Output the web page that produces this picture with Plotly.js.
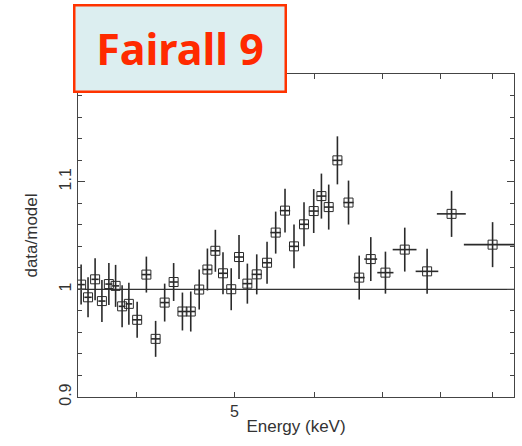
<!DOCTYPE html>
<html>
<head>
<meta charset="utf-8">
<script src="https://cdn.plot.ly/plotly-3.0.1.min.js"></script>
<style>html,body{margin:0;padding:0;background:#fff;}#chart{width:522px;height:446px;}</style>
</head>
<body>
<div id="chart"></div>
<script>
// Energy bin centres (keV)
const energy = [3.525, 3.581, 3.639, 3.696, 3.755, 3.813, 3.870, 3.930, 4.005, 4.090,
                4.177, 4.264, 4.352, 4.440, 4.525, 4.613, 4.700, 4.786, 4.870, 4.962,
                5.051, 5.148, 5.259, 5.384, 5.491, 5.609, 5.725, 5.857, 5.988, 6.094,
                6.196, 6.320, 6.482, 6.642, 6.819, 7.051, 7.368, 7.753, 8.197, 9.000];
// data/model ratio
const ratio = [1.0044, 0.9926, 1.0093, 0.9891, 1.0049, 1.0032, 0.9842, 0.9865, 0.9717, 1.0137,
               0.9540, 0.9877, 1.0068, 0.9794, 0.9794, 0.9998, 1.0184, 1.0358, 1.0149, 1.0001,
               1.0300, 1.0053, 1.0139, 1.0247, 1.0527, 1.0731, 1.0399, 1.0604, 1.0727, 1.0866,
               1.0764, 1.1198, 1.0806, 1.0109, 1.0281, 1.0155, 1.0369, 1.0167, 1.0701, 1.0415];
// 1-sigma errors on the ratio
const ratioErr = [0.0186, 0.0186, 0.0195, 0.0195, 0.0195, 0.0195, 0.0195, 0.0195, 0.0167, 0.0167,
                  0.0167, 0.0176, 0.0176, 0.0176, 0.0186, 0.0186, 0.0195, 0.0195, 0.0195, 0.0195,
                  0.0204, 0.0186, 0.0186, 0.0195, 0.0195, 0.0204, 0.0204, 0.0204, 0.0204, 0.0209,
                  0.0209, 0.0223, 0.0204, 0.0204, 0.0204, 0.0195, 0.0204, 0.0209, 0.0214, 0.0209];
// bin half-widths (keV)
const binHalfWidth = [0.03, 0.03, 0.03, 0.03, 0.03, 0.03, 0.03, 0.03, 0.043, 0.043,
                      0.043, 0.043, 0.043, 0.045, 0.045, 0.045, 0.05, 0.05, 0.05, 0.05,
                      0.05, 0.055, 0.06, 0.06, 0.066, 0.066, 0.066, 0.066, 0.066, 0.066,
                      0.066, 0.07, 0.075, 0.083, 0.1, 0.13, 0.2, 0.2, 0.27, 0.57];

const xTickVals = [4, 5, 6, 7, 8, 9];
const xTickText = ['', '5', '', '', '', ''];
const yTickVals = [0.9, 1.0, 1.1];
const yTickText = ['0.9', '1', '1.1'];
const xRange = [3.5, 9.45];
const yRange = [0.9, 1.2];
const refLevel = 1.0;
const titleText = 'Fairall 9';

const ink = '#2a2a2a';
const axisFont = {family: 'Liberation Sans, Arial, sans-serif', size: 16, color: '#333'};
const titleFont = {family: 'Liberation Sans, Arial, sans-serif', size: 17, color: '#333'};

const trace = {
  type: 'scatter',
  mode: 'markers',
  x: energy,
  y: ratio,
  marker: {symbol: 'square-open', size: 9, color: ink, line: {width: 1, color: ink}},
  error_y: {type: 'data', array: ratioErr, visible: true, color: ink, thickness: 1.6, width: 0},
  error_x: {type: 'data', array: binHalfWidth, visible: true, color: ink, thickness: 1.6, width: 0},
  hoverinfo: 'x+y'
};

const layout = {
  width: 522, height: 446,
  margin: {l: 78, r: 8, t: 74, b: 49},
  paper_bgcolor: '#fff', plot_bgcolor: '#fff',
  showlegend: false,
  font: axisFont,
  xaxis: {
    type: 'log',
    range: [Math.log10(xRange[0]), Math.log10(xRange[1])],
    tickmode: 'array', tickvals: xTickVals, ticktext: xTickText,
    ticks: 'inside', ticklen: 5, tickwidth: 1, tickcolor: '#444',
    showline: true, linecolor: '#444', linewidth: 1, mirror: 'ticks',
    showgrid: false, zeroline: false,
    tickfont: axisFont,
    title: {text: 'Energy (keV)', font: titleFont, standoff: 0}
  },
  yaxis: {
    range: yRange,
    tickmode: 'array', tickvals: yTickVals, ticktext: yTickText,
    ticks: 'inside', ticklen: 7, tickwidth: 1, tickcolor: '#444',
    minor: {tickmode: 'linear', tick0: 0.9, dtick: 0.02, ticks: 'inside', ticklen: 4, tickwidth: 1, tickcolor: '#444', showgrid: false},
    showline: true, linecolor: '#444', linewidth: 1, mirror: 'ticks',
    showgrid: false, zeroline: false,
    tickangle: -90,
    tickfont: axisFont,
    title: {text: 'data/model', font: titleFont, standoff: 14}
  },
  shapes: [{
    type: 'line', xref: 'paper', x0: 0, x1: 1, yref: 'y', y0: refLevel, y1: refLevel,
    line: {color: '#333', width: 1.2}, layer: 'below'
  }],
  annotations: [{
    text: titleText, showarrow: false,
    xref: 'paper', yref: 'paper', x: -0.0115, y: 1.2167,
    xanchor: 'left', yanchor: 'top',
    width: 209, height: 84,
    bgcolor: '#dceef0', bordercolor: '#ff3300', borderwidth: 2.5, borderpad: 0,
    font: {family: 'Noto Sans, sans-serif', size: 43, color: '#ff2a00', weight: 'bold'}
  }]
};

Plotly.newPlot('chart', [trace], layout, {displayModeBar: false, staticPlot: true});
</script>
</body>
</html>
